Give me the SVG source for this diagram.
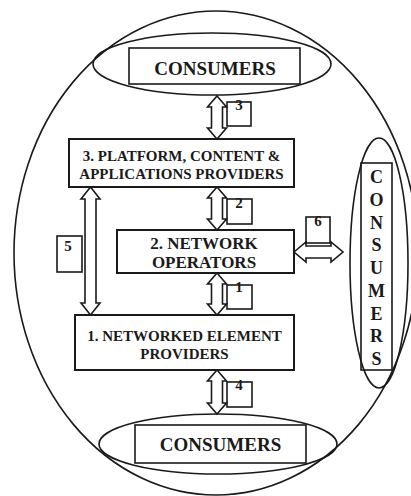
<svg xmlns="http://www.w3.org/2000/svg" width="411" height="496" viewBox="0 0 411 496">
<style>
.ln{fill:none;stroke:#1a1a1a;stroke-width:1.6}
.bx{fill:#fff;stroke:#1a1a1a;stroke-width:2}
.lb{fill:none;stroke:#1a1a1a;stroke-width:1.6}
.ar{fill:#fff;stroke:#1a1a1a;stroke-width:1.6;stroke-linejoin:miter}
text{font-family:"Liberation Serif","Times New Roman",serif;font-weight:bold;fill:#1a1a1a;text-anchor:middle}
.t15{font-size:15px}
.t17{font-size:17px}
.t19{font-size:19px}
.t18{font-size:18px}
.d{font-size:15px}
</style>
<rect width="411" height="496" fill="#fff"/>
<g id="outer"><ellipse class="ln" cx="216" cy="253" rx="202" ry="242"/></g>
<g id="consumers-top">
<ellipse class="ln" cx="212" cy="64" rx="119" ry="31"/>
<rect class="lb" x="129" y="48" width="171" height="36"/>
<text class="t19" x="215" y="75">CONSUMERS</text>
</g>
<g id="consumers-bottom">
<ellipse class="ln" cx="218" cy="444" rx="119" ry="30"/>
<rect class="lb" x="135" y="425" width="171" height="38"/>
<text class="t19" x="220.5" y="451">CONSUMERS</text>
</g>
<g id="consumers-right">
<ellipse class="ln" cx="379" cy="263" rx="29" ry="125"/>
<rect class="lb" x="361" y="163" width="31" height="207"/>
<text class="t18" x="376.5" y="183">C</text>
<text class="t18" x="376.5" y="206">O</text>
<text class="t18" x="376.5" y="228.5">N</text>
<text class="t18" x="376.5" y="251">S</text>
<text class="t18" x="376.5" y="274">U</text>
<text class="t18" x="376.5" y="297">M</text>
<text class="t18" x="376.5" y="319.5">E</text>
<text class="t18" x="376.5" y="342">R</text>
<text class="t18" x="376.5" y="365">S</text>
</g>
<g id="node3">
<rect class="bx" x="69" y="139" width="225" height="48"/>
<text class="t15" x="181.5" y="161">3. PLATFORM, CONTENT &amp;</text>
<text class="t15" x="181.5" y="179">APPLICATIONS PROVIDERS</text>
</g>
<g id="node2">
<rect class="bx" x="117" y="230" width="177" height="43"/>
<text class="t17" x="204" y="249">2. NETWORK</text>
<text class="t17" x="204" y="268">OPERATORS</text>
</g>
<g id="node1">
<rect class="bx" x="75" y="315" width="219" height="55"/>
<text class="t15" x="184.5" y="341">1. NETWORKED ELEMENT</text>
<text class="t15" x="184.5" y="359">PROVIDERS</text>
</g>
<g id="connectors">
<path class="ar" d="M217,96 L226.5,107 L222.5,107 L222.5,128 L226.5,128 L217,139 L207.5,128 L211.5,128 L211.5,107 L207.5,107 Z"/>
<path class="ar" d="M217,187 L226.5,198 L222.5,198 L222.5,219 L226.5,219 L217,230 L207.5,219 L211.5,219 L211.5,198 L207.5,198 Z"/>
<path class="ar" d="M217,273 L226.5,284 L222.5,284 L222.5,304 L226.5,304 L217,315 L207.5,304 L211.5,304 L211.5,284 L207.5,284 Z"/>
<path class="ar" d="M217,370 L226.5,381 L222.5,381 L222.5,403 L226.5,403 L217,414 L207.5,403 L211.5,403 L211.5,381 L207.5,381 Z"/>
<path class="ar" d="M90.5,187 L100,199 L96,199 L96,303 L100,303 L90.5,315 L81,303 L85,303 L85,199 L81,199 Z"/>
<path class="ar" d="M294,252 L306,242 L306,246 L331,246 L331,242 L343,252 L331,262 L331,258 L306,258 L306,262 Z"/>
</g>
<g id="labels">
<rect class="lb" x="227" y="102" width="24" height="24"/>
<text class="d" x="239" y="110">3</text>
<rect class="lb" x="227" y="199" width="25" height="25"/>
<text class="d" x="239" y="208">2</text>
<rect class="lb" x="227" y="285" width="25" height="24"/>
<text class="d" x="239" y="292">1</text>
<rect class="lb" x="227" y="382" width="25" height="25"/>
<text class="d" x="239" y="390">4</text>
<rect class="lb" x="57" y="236" width="25" height="36"/>
<text class="d" x="68" y="251">5</text>
<rect class="lb" x="306" y="217" width="24" height="26"/>
<text class="d" x="318" y="226">6</text>
</g>
</svg>
